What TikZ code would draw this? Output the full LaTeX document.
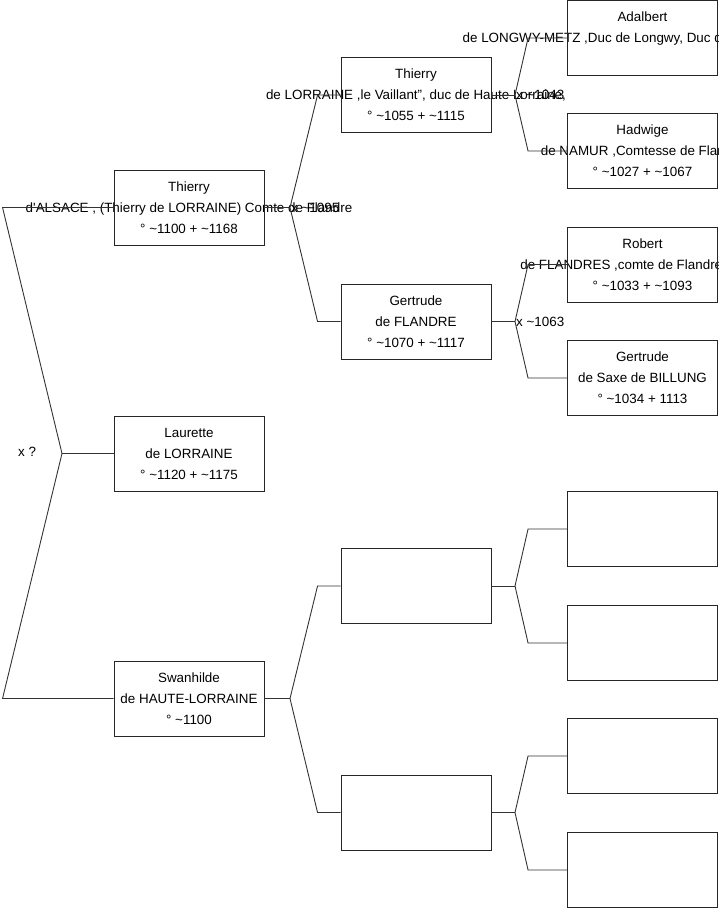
\documentclass[tikz,border=0pt]{standalone}
\usepackage{fontspec}
\setmainfont{Liberation Sans}
\usepackage{tikz}
\newcommand{\ca}{\textasciitilde}
\newcommand{\ap}{\textquotesingle}
\tikzset{
  pbox/.style   = {draw=black!85,line width=0.9pt,minimum width=150pt,minimum height=75pt,inner sep=0pt},
  ptext/.style  = {align=center,font=\fontsize{13.4}{21}\selectfont,inner sep=0pt},
  branch/.style = {black!80,line width=0.9pt},
  mlabel/.style = {anchor=west,inner sep=1pt,font=\fontsize{13.4}{15}\selectfont}
}
\newcommand{\person}[4]{%
  \node[ptext] at (#2,#3) {#4};
  \node[pbox] (#1) at (#2,#3) {};
}

\begin{document}
\begin{tikzpicture}[x=1pt,y=-1pt]
  \useasboundingbox (0,0) rectangle (719,908);
  \person{laurette}{189}{453.5}{Laurette\\de LORRAINE\\° \ca1120 + \ca1175}
  \person{thierry}{189}{207.5}{Thierry\\d\ap ALSACE , (Thierry de LORRAINE) Comte de Flandre\\° \ca1100 + \ca1168}
  \person{swanhilde}{189}{698.5}{Swanhilde\\de HAUTE-LORRAINE\\° \ca1100}
  \person{thierryv}{416}{95}{Thierry\\de LORRAINE ,le Vaillant", duc de Haute Lorraine,\\° \ca1055 + \ca1115}
  \person{gertrudef}{416}{321.5}{Gertrude\\de FLANDRE\\° \ca1070 + \ca1117}
  \person{swfather}{416}{586}{}
  \person{swmother}{416}{812.5}{}
  \person{adalbert}{642.5}{38}{Adalbert\\de LONGWY-METZ ,Duc de Longwy, Duc de Haute-Lorraine\\\mbox{}}
  \person{hadwige}{642.5}{151}{Hadwige\\de NAMUR ,Comtesse de Flandre\\° \ca1027 + \ca1067}
  \person{robert}{642.5}{264.5}{Robert\\de FLANDRES ,comte de Flandre (1071)\\° \ca1033 + \ca1093}
  \person{gertrudes}{642.5}{378}{Gertrude\\de Saxe de BILLUNG\\° \ca1034 + 1113}
  \person{emptyA}{642.5}{529}{}
  \person{emptyB}{642.5}{643}{}
  \person{emptyC}{642.5}{756}{}
  \person{emptyD}{642.5}{870}{}
  \coordinate (b0) at (62,453.5);
  \coordinate (bT) at (290,207.5);
  \coordinate (bS) at (290,698.5);
  \coordinate (bTV) at (515,95);
  \coordinate (bGF) at (515,321.5);
  \coordinate (bSF) at (515,586);
  \coordinate (bSM) at (515,812.5);
  \node[mlabel] (m0) at (17,452) {x ?};
  \node[mlabel] (mT) at (bT) {x \ca1095};
  \node[mlabel] (mTV) at (bTV) {x \ca1043};
  \node[mlabel] (mGF) at (bGF) {x \ca1063};
  \draw[branch] (laurette.west) -- (b0);
  \draw[branch] (b0) -- ([xshift=-111pt]thierry.west) -- (thierry.west);
  \draw[branch] (b0) -- ([xshift=-111pt]swanhilde.west) -- (swanhilde.west);
  \draw[branch] (thierry.east) -- (bT);
  \draw[branch] (bT) -- ([xshift=-23pt]thierryv.west) -- (thierryv.west);
  \draw[branch] (bT) -- ([xshift=-23pt]gertrudef.west) -- (gertrudef.west);
  \draw[branch] (swanhilde.east) -- (bS);
  \draw[branch] (bS) -- ([xshift=-23pt]swfather.west) -- (swfather.west);
  \draw[branch] (bS) -- ([xshift=-23pt]swmother.west) -- (swmother.west);
  \draw[branch] (thierryv.east) -- (bTV);
  \draw[branch] (bTV) -- ([xshift=-39pt]adalbert.west) -- (adalbert.west);
  \draw[branch] (bTV) -- ([xshift=-39pt]hadwige.west) -- (hadwige.west);
  \draw[branch] (gertrudef.east) -- (bGF);
  \draw[branch] (bGF) -- ([xshift=-39pt]robert.west) -- (robert.west);
  \draw[branch] (bGF) -- ([xshift=-39pt]gertrudes.west) -- (gertrudes.west);
  \draw[branch] (swfather.east) -- (bSF);
  \draw[branch] (bSF) -- ([xshift=-39pt]emptyA.west) -- (emptyA.west);
  \draw[branch] (bSF) -- ([xshift=-39pt]emptyB.west) -- (emptyB.west);
  \draw[branch] (swmother.east) -- (bSM);
  \draw[branch] (bSM) -- ([xshift=-39pt]emptyC.west) -- (emptyC.west);
  \draw[branch] (bSM) -- ([xshift=-39pt]emptyD.west) -- (emptyD.west);
\end{tikzpicture}
\end{document}
